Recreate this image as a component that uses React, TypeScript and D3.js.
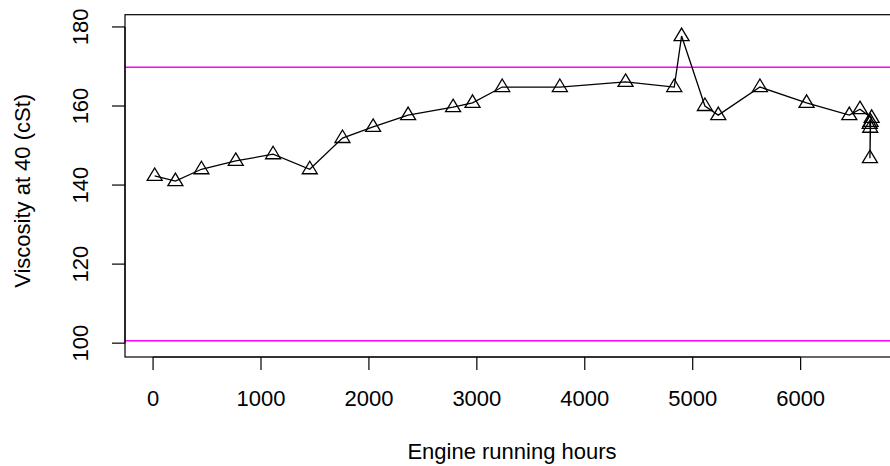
import * as d3 from "d3";
import React from "react";

const width = 890;
const height = 466;

// oil analysis readings
const hours = [15, 207, 448, 766, 1112, 1452, 1755, 2039, 2363, 2780, 2960, 3235, 3769, 4378, 4829, 4897, 5113, 5237, 5623, 6055, 6451, 6550, 6658, 6640, 6645, 6642, 6648];
const viscosity = [142.3, 141.0, 144.0, 146.1, 147.8, 144.0, 151.9, 154.7, 157.7, 159.7, 160.8, 164.8, 164.8, 166.1, 164.8, 177.7, 160.0, 157.7, 164.8, 160.8, 157.7, 159.2, 157.0, 155.5, 154.5, 146.8, 156.0];

const limits = [100.6, 169.8];
const xTicks = [0, 1000, 2000, 3000, 4000, 5000, 6000];
const yTicks = [100, 120, 140, 160, 180];

const font = "Liberation Sans, Arial, sans-serif";

const App = () => {
  const x = d3.scaleLinear().domain([-260, 6916]).range([125, 899.5]);
  const y = d3.scaleLinear().domain([96.5, 183.1]).range([357, 14.7]);

  const pts = hours.map((h, i) => [x(h), y(viscosity[i])] as [number, number]);
  const line = d3.line()(pts) || "";

  const [x0, x1] = x.range();
  const [yb, yt] = y.range();

  const tri = "M0,-8L7.5,4.5L-7.5,4.5Z";

  return (
    <svg
      width={width}
      height={height}
      style={{ position: "absolute", left: 0, top: 0, background: "#fff" }}
      fontFamily={font}
    >
      {/* control limits */}
      {limits.map((l) => (
        <line key={l} x1={x0} x2={x1} y1={y(l)} y2={y(l)} stroke="#ff00ff" strokeWidth={1.5} />
      ))}

      <path d={line} fill="none" stroke="#000" strokeWidth={1.3} />
      {pts.map(([px, py], i) => (
        <path
          key={i}
          d={tri}
          transform={`translate(${px},${py})`}
          fill="none"
          stroke="#000"
          strokeWidth={1.3}
        />
      ))}

      {/* box */}
      <rect x={x0} y={yt} width={x1 - x0} height={yb - yt} fill="none" stroke="#000" strokeWidth={1.2} />

      {/* x axis */}
      <line x1={x(0)} x2={x(6000)} y1={yb} y2={yb} stroke="#000" strokeWidth={1.2} />
      {xTicks.map((t) => (
        <g key={t} transform={`translate(${x(t)},0)`}>
          <line y1={yb} y2={yb + 13} stroke="#000" strokeWidth={1.2} />
          <text y={406} textAnchor="middle" fontSize={22} fill="#000">
            {t}
          </text>
        </g>
      ))}
      <text x={512} y={459} textAnchor="middle" fontSize={22} fill="#000">
        Engine running hours
      </text>

      {/* y axis */}
      <line x1={x0} x2={x0} y1={y(100)} y2={y(180)} stroke="#000" strokeWidth={1.2} />
      {yTicks.map((t) => (
        <g key={t} transform={`translate(0,${y(t)})`}>
          <line x1={x0 - 13} x2={x0} stroke="#000" strokeWidth={1.2} />
          <text transform="translate(88,0) rotate(-90)" textAnchor="middle" fontSize={22} fill="#000">
            {t}
          </text>
        </g>
      ))}
      <text
        transform={`translate(30,${(yb + yt) / 2 + 5}) rotate(-90)`}
        textAnchor="middle"
        fontSize={22}
        fill="#000"
      >
        Viscosity at 40 (cSt)
      </text>
    </svg>
  );
};

export default App;
